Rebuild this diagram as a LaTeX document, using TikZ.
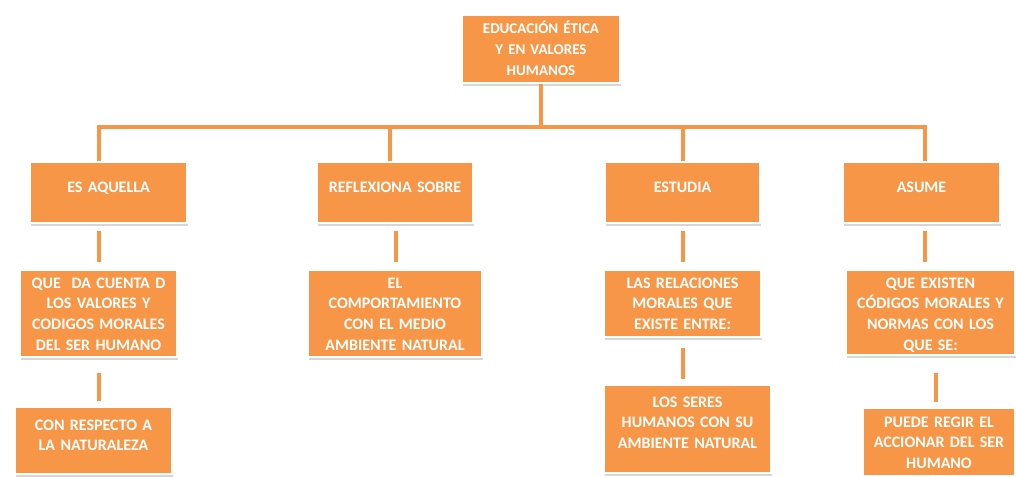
\documentclass[tikz,border=0pt]{standalone}
\usepackage{fontspec}
\setmainfont{Carlito}
\usetikzlibrary{shadows}
\definecolor{boxorange}{RGB}{247,150,70}
\tikzset{
  box/.style={fill=boxorange, draw=white, line width=2pt, inner sep=0pt, text=white, align=center,
    font=\bfseries\fontsize{16}{20.7}\selectfont,
    drop shadow={shadow xshift=1pt, shadow yshift=-3pt, fill=gray!70, opacity=0.45}},
  link/.style={draw=boxorange, line width=4.5pt},
}
\begin{document}
\begin{tikzpicture}[x=1pt, y=-1pt]
    \useasboundingbox (0,0) rectangle (1016,476);
    \coordinate (bar) at (0,127);
    \coordinate (k1) at (99,0);
    \coordinate (k2) at (390,0);
    \coordinate (m2) at (396,0);
    \coordinate (k3) at (683,0);
    \coordinate (k4) at (925,0);
    \coordinate (m4) at (936,0);

    \node[box, text width=158pt, text height=19pt, text depth=49pt, font=\bfseries\fontsize{15}{21}\selectfont] (edu) at (541,49)
        {EDUCACIÓN ÉTICA\\Y EN VALORES\\HUMANOS};

    \node[box, text width=157pt, text height=30pt, text depth=31pt] (esa) at (108.5,192.5) {ES AQUELLA};
    \node[box, text width=156pt, text height=30pt, text depth=31pt] (refl) at (395,192.5) {REFLEXIONA SOBRE};
    \node[box, text width=155pt, text height=30pt, text depth=31pt] (est) at (682.5,192.5) {ESTUDIA};
    \node[box, text width=157pt, text height=30pt, text depth=31pt] (asu) at (921.5,192.5) {ASUME};

    \node[box, text width=157pt, text height=18pt, text depth=69pt] (qda) at (98.5,313.5)
        {QUE\ \ DA CUENTA D\\LOS VALORES Y\\CODIGOS MORALES\\DEL SER HUMANO};
    \node[box, text width=174pt, text height=18pt, text depth=69pt] (comp) at (395,313.5)
        {EL\\COMPORTAMIENTO\\CON EL MEDIO\\AMBIENTE NATURAL};
    \node[box, text width=157pt, text height=18pt, text depth=49pt] (rel) at (682.5,303.5)
        {LAS RELACIONES\\MORALES QUE\\EXISTE ENTRE:};
    \node[box, text width=169pt, text height=18pt, text depth=67pt] (exi) at (930.5,312.5)
        {QUE EXISTEN\\CÓDIGOS MORALES Y\\NORMAS CON LOS\\QUE SE:};

    \node[box, text width=157pt, text height=23pt, text depth=44pt] (resp) at (93.5,440.5)
        {CON RESPECTO A\\LA NATURALEZA};
    \node[box, text width=167pt, text height=22pt, text depth=66pt] (ser) at (687.5,429)
        {LOS SERES\\HUMANOS CON SU\\AMBIENTE NATURAL};
    \node[box, text width=152pt, text height=19pt, text depth=49pt] (pue) at (939,442)
        {PUEDE REGIR EL\\ACCIONAR DEL SER\\HUMANO};

    % trunk and bar
    \draw[link] (edu.south) -- (edu.south |- bar);
    \draw[link, line cap=rect] (k1 |- bar) -- (k4 |- bar);
    \foreach \k/\n in {k1/esa, k2/refl, k3/est, k4/asu}
        \draw[link] (\k |- bar) -- (\k |- \n.north);

    \foreach \k/\a/\b/\s/\e in {k1/esa/qda/7/7, m2/refl/comp/7/7, k3/est/rel/7/7, k4/asu/exi/7/7,
                                k1/qda/resp/15/5, k3/rel/ser/10/5, m4/exi/pue/17/5}
        \draw[link, shorten <=\s pt, shorten >=\e pt] (\k |- \a.south) -- (\k |- \b.north);
\end{tikzpicture}
\end{document}
